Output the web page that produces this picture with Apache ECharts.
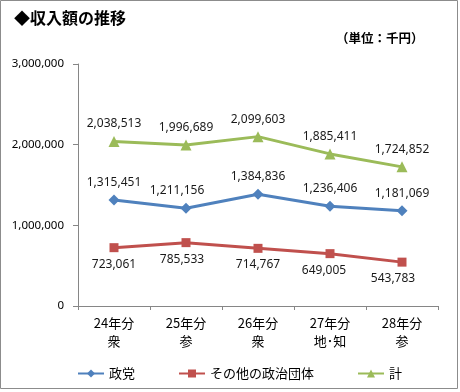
<!DOCTYPE html>
<html><head><meta charset="utf-8">
<script src="https://cdn.jsdelivr.net/npm/echarts@6/dist/echarts.min.js"></script>
<style>html,body{margin:0;padding:0;background:#fff}#c{width:460px;height:392px}</style>
</head><body><div id="c"></div>
<script>
const categories = ['24年分\n衆', '25年分\n参', '26年分\n衆', '27年分\n地･知', '28年分\n参'];
const seriesNames = ['政党', 'その他の政治団体', '計'];
const seitou = [1315451, 1211156, 1384836, 1236406, 1181069];
const sonota = [723061, 785533, 714767, 649005, 543783];
const total = [2038513, 1996689, 2099603, 1885411, 1724852];
const yTicks = [0, 1000000, 2000000, 3000000];

// small horizontal nudges of a few data labels, as placed in the original
const labelNudge = {0: {1: -9}, 1: {1: -4, 3: -6, 4: -9}, 2: {}};

const fmt = v => Number(v).toLocaleString('en-US');
const numFont = 'Noto Sans';
const jpFont = 'Noto Sans CJK JP';
const chart = echarts.init(document.getElementById('c'));
const lbl = (pos) => ({show: true, position: pos, distance: 6, color: '#1a1a1a', fontFamily: numFont, fontSize: 12,
  formatter: p => fmt(p.value)});
const items = (arr, si) => arr.map((v, i) => {
  const dx = labelNudge[si][i];
  return dx ? {value: v, label: {offset: [dx, 0]}} : v;
});
chart.setOption({
  animation: false,
  graphic: [
    {type: 'rect', shape: {x: 0.5, y: 0.5, width: 457, height: 388}, style: {fill: 'none', stroke: '#8c8c8c', lineWidth: 1}},
    {type: 'text', left: 14, top: 10, style: {text: '◆収入額の推移', font: 'bold 16px "Noto Sans CJK JP"', fill: '#000'}},
    {type: 'text', left: 336, top: 32, style: {text: '（単位：千円）', font: 'bold 12.5px "Noto Sans CJK JP"', fill: '#000'}}
  ],
  grid: {left: 78, right: 22, top: 64, bottom: 86, containLabel: false},
  legend: {
    left: 72, top: 362, itemWidth: 26, itemHeight: 10, itemGap: 43,
    textStyle: {fontFamily: jpFont, fontSize: 13, color: '#000'},
    data: seriesNames
  },
  xAxis: {
    type: 'category', data: categories, boundaryGap: true,
    axisLine: {lineStyle: {color: '#868686', width: 1}},
    axisTick: {show: true, length: 4, lineStyle: {color: '#868686'}},
    axisLabel: {fontFamily: jpFont, fontSize: 13, color: '#000', lineHeight: 18, margin: 8, interval: 0}
  },
  yAxis: {
    type: 'value', min: yTicks[0], max: yTicks[yTicks.length - 1], interval: yTicks[1] - yTicks[0],
    axisLine: {show: true, lineStyle: {color: '#868686', width: 1}},
    axisTick: {show: true, length: 5, lineStyle: {color: '#868686'}},
    splitLine: {show: false},
    axisLabel: {fontFamily: numFont, fontSize: 11.5, color: '#000', margin: 14, formatter: v => fmt(v)}
  },
  series: [
    {name: seriesNames[0], type: 'line', data: items(seitou, 0), symbol: 'diamond', symbolSize: 11,
      lineStyle: {color: '#4F81BD', width: 3}, itemStyle: {color: '#4F81BD'}, label: lbl('top')},
    {name: seriesNames[1], type: 'line', data: items(sonota, 1), symbol: 'rect', symbolSize: 9,
      lineStyle: {color: '#C0504D', width: 3}, itemStyle: {color: '#C0504D'}, label: lbl('bottom')},
    {name: seriesNames[2], type: 'line', data: items(total, 2), symbol: 'triangle', symbolSize: 11,
      lineStyle: {color: '#9BBB59', width: 3}, itemStyle: {color: '#9BBB59'}, label: lbl('top')}
  ]
});
</script></body></html>
